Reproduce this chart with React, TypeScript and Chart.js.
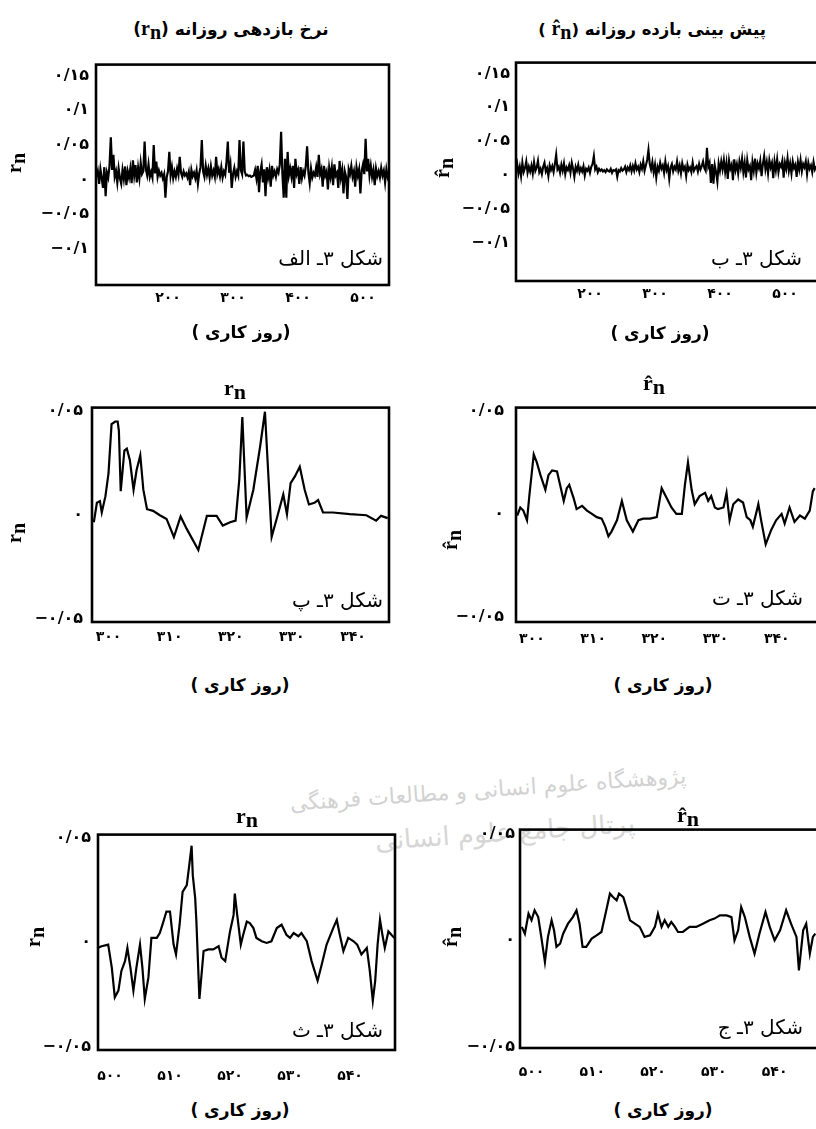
import React, { useEffect, useRef } from "react";
import { Chart, registerables } from "chart.js";

Chart.register(...registerables);

// ---------- DATA ----------
// Panel A: actual daily return r_n, read every second working day from day 90
const DAY0_A = 90;
const STEP_A = 2;
const returnsA = [
  0.004, 0.012, -0.006, 0.015, 0.002, -0.012, 0.018, -0.024, 0.010, 0.003,
  0.020, 0.061, 0.014, 0.036, 0.004, 0.012, -0.004, 0.016, 0.002, -0.006,
  0.014, 0.001, 0.019, -0.008, 0.012, 0.003, 0.016, -0.005, 0.028, 0.006,
  0.021, -0.004, 0.017, 0.002, 0.024, 0.008, 0.012, 0.055, 0.015, 0.006,
  0.022, 0.004, 0.011, 0.003, 0.050, 0.009, 0.026, 0.004, 0.013, 0.006,
  0.010, 0.002, 0.008, -0.026, 0.004, 0.012, 0.040, 0.006, 0.018, 0.002,
  0.012, 0.004, 0.016, 0.007, 0.033, 0.010, 0.004, 0.012, 0.006, 0.009,
  0.003, 0.011, -0.008, 0.014, 0.005, 0.010, 0.002, 0.013, -0.006, 0.009,
  0.018, 0.057, 0.012, 0.004, 0.020, 0.007, 0.016, 0.003, 0.019, 0.006,
  0.013, 0.004, 0.033, 0.008, 0.015, 0.005, 0.018, 0.003, 0.012, 0.007,
  0.026, 0.055, 0.010, 0.022, -0.012, 0.008, 0.017, 0.004, 0.012, 0.006,
  0.057, 0.014, 0.008, 0.055, 0.012, 0.006, 0.007, 0.005, 0.006, 0.004,
  0.005, 0.006, 0.014, 0.002, 0.020, -0.018, 0.012, 0.022, -0.004, 0.015,
  -0.024, 0.018, 0.003, 0.014, -0.010, 0.020, 0.006, 0.012, 0.004, 0.015,
  0.010, 0.022, 0.069, 0.008, -0.026, 0.030, -0.026, 0.040, 0.006, 0.016,
  0.004, 0.020, -0.012, 0.030, 0.008, 0.014, -0.006, 0.018, 0.002, 0.012,
  0.006, 0.020, 0.048, 0.010, -0.005, 0.016, 0.003, 0.010, 0.006, 0.018,
  0.004, 0.036, 0.008, 0.015, -0.010, 0.020, 0.006, 0.012, -0.014, 0.017,
  0.004, 0.018, -0.008, 0.022, 0.006, 0.010, -0.012, 0.027, 0.003, 0.014,
  -0.020, 0.012, 0.004, -0.028, 0.015, 0.008, 0.020, 0.004, 0.012, -0.010,
  0.018, 0.006, 0.015, -0.020, 0.013, 0.022, 0.008, 0.059, 0.012, 0.030,
  0.006, 0.020, 0.004, 0.014, -0.008, 0.016, 0.005, 0.012, 0.003, 0.017,
  0.006, 0.013, -0.004, 0.015, 0.004, 0.011,
];
const daysA = returnsA.map((_, i) => DAY0_A + STEP_A * i);

// Panel B: forecast daily return r^_n, every second working day from day 86
const DAY0_B = 86;
const STEP_B = 2;
const forecastB = [
  0.006, 0.016, 0.002, 0.012, -0.002, 0.018, 0.004, 0.010, 0.020, 0.003,
  0.012, 0.005, 0.014, 0.002, 0.019, 0.006, 0.011, 0.021, 0.004, 0.009,
  0.001, 0.012, 0.018, 0.005, 0.010, -0.002, 0.014, 0.007, 0.013, 0.004,
  0.016, 0.030, 0.008, 0.012, 0.003, 0.015, 0.006, 0.017, 0.001, 0.011,
  0.007, 0.014, 0.003, 0.018, 0.009, -0.003, 0.012, 0.006, 0.015, 0.004,
  0.010, 0.005, 0.013, -0.001, 0.009, 0.006, 0.011, 0.003, 0.012, 0.016,
  0.028, 0.008, 0.012, 0.004, 0.009, 0.006, 0.008, 0.005, 0.007, 0.004,
  0.008, 0.006, 0.005, 0.009, 0.003, 0.007, 0.006, 0.008, -0.003, 0.007,
  0.005, 0.010, 0.006, 0.008, 0.012, 0.004, 0.011, 0.007, 0.014, 0.005,
  0.013, 0.006, 0.017, 0.008, 0.012, 0.004, 0.015, 0.009, 0.020, 0.006,
  0.014, 0.022, 0.037, 0.016, 0.008, 0.019, 0.004, 0.015, -0.004, 0.012,
  0.006, 0.018, 0.009, 0.014, 0.003, 0.020, 0.007, 0.013, -0.006, 0.011,
  0.016, 0.005, 0.012, 0.008, 0.020, 0.006, 0.014, 0.002, 0.017, 0.008,
  0.012, -0.002, 0.015, 0.007, 0.011, 0.004, 0.018, 0.006, 0.010, 0.013,
  0.005, 0.016, 0.008, 0.013, 0.020, 0.010, 0.006, 0.040, 0.012, 0.018,
  -0.012, 0.016, -0.013, 0.014, 0.004, -0.010, 0.017, 0.006, 0.020, 0.008,
  0.022, 0.004, 0.018, -0.006, 0.021, 0.009, 0.015, -0.008, 0.023, 0.007,
  0.016, 0.002, 0.020, 0.010, 0.024, 0.004, 0.018, -0.004, 0.022, 0.008,
  0.013, -0.008, 0.019, 0.006, 0.024, 0.003, 0.017, 0.010, 0.021, -0.002,
  0.016, 0.028, 0.008, 0.019, 0.002, 0.022, 0.011, 0.018, -0.005, 0.020,
  0.007, 0.023, 0.004, 0.016, 0.012, 0.021, -0.004, 0.018, 0.009, 0.025,
  0.006, 0.017, 0.002, 0.020, 0.010, 0.015, -0.003, 0.019, 0.008, 0.022,
  0.005, 0.016, 0.011, 0.020, 0.001, 0.018, 0.009, 0.014, 0.004, 0.019,
  0.008, 0.013,
];
const daysB = forecastB.map((_, i) => DAY0_B + STEP_B * i);

// Panel C: r_n, days 298-346
const daysC = [
  297.6, 298.1, 298.6, 298.9, 299.5, 300.0, 300.5, 301.1, 301.5, 301.7,
  302.0, 302.6, 303.0, 303.5, 304.1, 304.6, 305.2, 305.7, 306.3, 307.3,
  308.4, 309.5, 310.7, 311.8, 312.8, 314.7, 316.1, 317.7, 318.7, 319.9,
  320.8, 321.4, 321.9, 322.6, 323.7, 324.8, 325.6, 326.7, 327.8, 328.6,
  329.2, 329.8, 330.5, 331.3, 332.1, 332.8, 333.7, 334.3, 335.1, 336.7,
  339.5, 342.2, 343.8, 344.6, 345.7,
];
const returnsC = [
  -0.0036, 0.0058, 0.0066, 0.0011, 0.009, 0.02, 0.0437, 0.045, 0.045, 0.0405,
  0.0114, 0.031, 0.0319, 0.0263, 0.0121, 0.0216, 0.0287, 0.0121, 0.0027, 0.0019,
  -0.0002, -0.002, -0.0107, -0.0008, -0.0068, -0.017, -0.0005, -0.0005, -0.0052, -0.0036,
  -0.0028, 0.0169, 0.0472, -0.0013, 0.0121, 0.0327, 0.0497, -0.0107, 0.0011, 0.0098,
  0.0003, 0.0153, 0.0185, 0.0232, 0.0121, 0.005, 0.0058, 0.0071, 0.0011, 0.0011,
  0.0003, -0.0002, -0.0028, -0.0005, -0.0016,
];

// Panel D: r^_n, days 298-346
const daysD = [
  297.6, 298.1, 298.6, 299.2, 299.6, 300.3, 300.8, 301.4, 302.2, 302.7,
  303.3, 304.1, 304.6, 305.2, 305.7, 306.1, 306.8, 307.3, 308.2, 309.0,
  309.8, 310.6, 311.4, 312.0, 312.5, 313.0, 313.9, 314.7, 315.5, 316.5,
  317.4, 318.2, 319.3, 320.4, 321.2, 322.0, 322.8, 323.6, 324.5, 325.0,
  325.5, 326.1, 326.6, 327.4, 328.3, 328.8, 329.3, 329.9, 330.4, 331.3,
  331.8, 332.3, 332.9, 333.7, 334.5, 335.1, 335.7, 336.1, 337.0, 337.5,
  338.2, 339.1, 339.9, 340.8, 341.3, 342.1, 342.9, 343.8, 344.6, 345.4,
  345.9, 346.2,
];
const forecastD = [
  -0.0008, 0.0031, 0.0016, -0.0031, 0.0094, 0.0289, 0.025, 0.0188, 0.0117, 0.0188,
  0.0211, 0.0206, 0.0141, 0.0063, 0.0125, 0.0141, 0.0078, 0.0023, 0.0039, 0.0016,
  0, -0.0016, -0.0023, -0.0063, -0.0109, -0.0086, -0.0031, 0.0063, -0.0031, -0.0086,
  -0.0031, -0.0023, -0.0023, -0.0016, 0.0125, 0.0078, 0.0031, 0, 0, 0.0141,
  0.025, 0.0117, 0.0047, 0.0086, 0.0102, 0.0063, 0.0086, 0.0031, 0.0023, 0.0031,
  0.0102, -0.0031, 0.0047, 0.007, 0.0055, -0.0016, -0.0031, -0.0063, 0.0047, -0.0039,
  -0.0148, -0.0078, -0.0031, 0, -0.0047, 0.0031, -0.0039, -0.0008, -0.0023, 0.0016,
  0.0109, 0.0125,
];

// Panel E: r_n, days 498-547
const daysE = [
  497.9, 498.6, 499.7, 500.3, 500.8, 501.4, 501.9, 502.5, 502.9, 503.4,
  503.9, 504.4, 505.0, 505.4, 505.8, 506.4, 506.9, 507.8, 508.3, 508.9,
  509.4, 510.0, 510.6, 511.0, 511.6, 512.1, 512.8, 513.2, 513.6, 513.8,
  514.2, 514.4, 514.9, 515.6, 516.4, 517.2, 518.1, 518.6, 519.2, 520.0,
  520.6, 520.8, 521.2, 521.8, 522.2, 522.8, 523.3, 523.9, 524.4, 525.3,
  526.1, 526.9, 527.8, 528.6, 529.4, 530.0, 530.6, 531.4, 531.9, 532.8,
  533.6, 534.6, 535.3, 536.1, 537.2, 537.8, 538.3, 538.9, 539.7, 540.6,
  541.2, 541.9, 542.8, 543.3, 543.8, 544.2, 544.6, 545.0, 545.4, 545.8,
  546.4, 546.9, 547.4,
];
const returnsE = [
  -0.0028, -0.002, -0.0012, -0.0122, -0.0264, -0.0232, -0.0138, -0.0091, -0.0028, -0.0122,
  -0.0232, -0.0122, -0.0012, -0.0122, -0.0272, -0.0169, 0.002, 0.002, 0.0043, 0.0098,
  0.0146, 0.0146, -0.0012, -0.0059, 0.0083, 0.024, 0.0272, 0.0366, 0.0461, 0.0319,
  0.0209, 0.0098, -0.0272, -0.0043, -0.0035, -0.0035, -0.002, -0.0075, -0.0091, 0.0051,
  0.013, 0.0232, 0.013, -0.0012, 0.0035, 0.0098, 0.0091, 0.0067, 0.002, 0.0004,
  -0.0004, 0.0004, 0.0067, 0.0083, 0.0035, 0.002, 0.0043, 0.0028, 0.0043, 0.0004,
  -0.0091, -0.0185, -0.0106, -0.0012, 0.0067, 0.0106, 0.0035, -0.0043, 0.002, 0.0004,
  -0.0012, -0.0059, -0.0028, -0.0138, -0.028, -0.0185, -0.0012, 0.0106, 0.0035, -0.0028,
  0.0051, 0.0035, 0.002,
];

// Panel F: r^_n, days 498-547
const daysF = [
  498.4, 498.9, 499.5, 500.0, 500.5, 501.1, 501.6, 502.2, 502.7, 503.3,
  503.7, 504.1, 504.7, 505.2, 506.0, 506.8, 507.4, 507.9, 508.4, 509.0,
  509.9, 510.7, 511.5, 512.3, 512.9, 513.4, 514.0, 514.4, 515.1, 515.6,
  516.2, 517.0, 517.8, 518.6, 519.5, 520.3, 520.8, 521.4, 521.9, 522.5,
  523.0, 523.6, 524.1, 524.9, 526.0, 527.1, 528.2, 529.3, 530.1, 531.0,
  532.1, 532.9, 533.4, 534.0, 534.5, 535.1, 535.9, 536.7, 537.5, 538.5,
  539.2, 540.0, 540.9, 541.9, 542.7, 543.6, 544.0, 544.7, 545.2, 545.8,
  546.3, 546.7,
];
const forecastF = [
  0.0063, 0.0031, 0.0125, 0.0094, 0.0141, 0.0109, 0.0016, -0.0102, 0.0016, 0.0094,
  0.0047, -0.0031, -0.0016, 0.0031, 0.0078, 0.0109, 0.0141, 0.0078, -0.0031, -0.0031,
  0.0008, 0.0023, 0.0039, 0.0141, 0.0219, 0.0203, 0.0188, 0.0219, 0.0203, 0.0156,
  0.0094, 0.0078, 0.0063, 0.0016, 0.0023, 0.0063, 0.0125, 0.0063, 0.0094, 0.0063,
  0.0086, 0.0063, 0.0039, 0.0039, 0.0063, 0.0063, 0.0078, 0.0094, 0.0102, 0.0117,
  0.0117, 0.0109, 0, 0.0047, 0.0156, 0.0109, 0.0016, -0.0063, 0.0031, 0.0133,
  0.0063, 0, 0.0047, 0.0141, 0.0078, 0.0016, -0.0141, 0.0047, 0.0078, -0.0063,
  0.0016, 0.0031,
];

// Tick values and their Persian labels
const yTicksWide = [-0.1, -0.05, 0, 0.05, 0.1, 0.15];
const yTickLabelsWide = ["−۰/۱", "−۰/۰۵", "۰", "۰/۰۵", "۰/۱", "۰/۱۵"];
const yTicksNarrow = [-0.05, 0, 0.05];
const yTickLabelsNarrow = ["−۰/۰۵", "۰", "۰/۰۵"];
const xTicksWide = [200, 300, 400, 500];
const xTickLabelsWide = ["۲۰۰", "۳۰۰", "۴۰۰", "۵۰۰"];
const xTicksMid = [300, 310, 320, 330, 340];
const xTickLabelsMid = ["۳۰۰", "۳۱۰", "۳۲۰", "۳۳۰", "۳۴۰"];
const xTicksLate = [500, 510, 520, 530, 540];
const xTickLabelsLate = ["۵۰۰", "۵۱۰", "۵۲۰", "۵۳۰", "۵۴۰"];

// Texts
const TITLE_ACTUAL = "نرخ بازدهی روزانه";
const TITLE_FORECAST = "پیش بینی بازده روزانه";
const X_TITLE = "(روز کاری )";
const FIG_LABELS = ["شکل ۳ـ الف", "شکل ۳ـ ب", "شکل ۳ـ پ", "شکل ۳ـ ت", "شکل ۳ـ ث", "شکل ۳ـ ج"];
const WATERMARK_1 = "پژوهشگاه علوم انسانی و مطالعات فرهنگی";
const WATERMARK_2 = "پرتال جامع علوم انسانی";

// ---------- LAYOUT ----------
const FA = "'DejaVu Sans', sans-serif";
const SERIF = "'Liberation Serif', 'DejaVu Serif', serif";
const YW = 90;
const XH = 40;
const PT = 14;
const PR = 14;

const PANELS = [
  {
    xs: daysA, ys: returnsA, box: { l: 96, t: 62, r: 389, b: 285 },
    xMin: 89.2, xMax: 540, yMin: -0.152, yMax: 0.166,
    yTicks: yTicksWide, yLabels: yTickLabelsWide, xTicks: xTicksWide, xLabels: xTickLabelsWide,
    lw: 2.2, yPad: 7, xPad: 5,
  },
  {
    xs: daysB, ys: forecastB, box: { l: 516, t: 61, r: 822, b: 281 },
    xMin: 86.2, xMax: 557, yMin: -0.157, yMax: 0.166,
    yTicks: yTicksWide, yLabels: yTickLabelsWide, xTicks: xTicksWide, xLabels: xTickLabelsWide,
    lw: 2.1, yPad: 6, xPad: 5,
  },
  {
    xs: daysC, ys: returnsC, box: { l: 92, t: 403, r: 389, b: 622 },
    xMin: 297.3, xMax: 345.9, yMin: -0.0517, yMax: 0.0517,
    yTicks: yTicksNarrow, yLabels: yTickLabelsNarrow, xTicks: xTicksMid, xLabels: xTickLabelsMid,
    lw: 2.2, yPad: 9, xPad: 7,
  },
  {
    xs: daysD, ys: forecastD, box: { l: 516, t: 400, r: 822, b: 622 },
    xMin: 297.4, xMax: 347.4, yMin: -0.0525, yMax: 0.0516,
    yTicks: yTicksNarrow, yLabels: yTickLabelsNarrow, xTicks: xTicksMid, xLabels: xTickLabelsMid,
    lw: 2.2, yPad: 12, xPad: 9,
  },
  {
    xs: daysE, ys: returnsE, box: { l: 98, t: 832, r: 395, b: 1050 },
    xMin: 498, xMax: 547.5, yMin: -0.0516, yMax: 0.0514,
    yTicks: yTicksNarrow, yLabels: yTickLabelsNarrow, xTicks: xTicksLate, xLabels: xTickLabelsLate,
    lw: 2.2, yPad: 7, xPad: 18,
  },
  {
    xs: daysF, ys: forecastF, box: { l: 520, t: 829, r: 822, b: 1048 },
    xMin: 498.1, xMax: 547.8, yMin: -0.0506, yMax: 0.052,
    yTicks: yTicksNarrow, yLabels: yTickLabelsNarrow, xTicks: xTicksLate, xLabels: xTickLabelsLate,
    lw: 2.2, yPad: 5, xPad: 16,
  },
];

const TITLES = [
  { cx: 231, cy: 28, kind: "actualLong" },
  { cx: 652, cy: 28, kind: "forecastLong" },
  { cx: 235, cy: 388, kind: "r" },
  { cx: 654, cy: 383, kind: "rhat" },
  { cx: 247, cy: 816, kind: "r" },
  { cx: 688, cy: 815, kind: "rhat" },
];
const Y_LABELS = [
  { cx: 14, cy: 163, hat: false },
  { cx: 442, cy: 168, hat: true },
  { cx: 14, cy: 533, hat: false },
  { cx: 450, cy: 540, hat: true },
  { cx: 33, cy: 937, hat: false },
  { cx: 450, cy: 937, hat: true },
];
const X_TITLES = [
  { cx: 241, cy: 332 }, { cx: 660, cy: 333 },
  { cx: 240, cy: 685 }, { cx: 663, cy: 685 },
  { cx: 240, cy: 1110 }, { cx: 663, cy: 1110 },
];
const FIG_POS = [
  { r: 383, cy: 258 }, { r: 802, cy: 258 },
  { r: 383, cy: 600 }, { r: 803, cy: 598 },
  { r: 383, cy: 1030 }, { r: 803, cy: 1027 },
];

const boxPlugin = {
  id: "frameBox",
  afterDraw(chart: any) {
    const { ctx, chartArea } = chart;
    ctx.save();
    ctx.strokeStyle = "#000";
    ctx.lineWidth = 2.6;
    ctx.strokeRect(chartArea.left, chartArea.top, chartArea.right - chartArea.left, chartArea.bottom - chartArea.top);
    ctx.restore();
  },
};

function Panel({ p }: { p: any }) {
  const ref = useRef<HTMLCanvasElement>(null);
  const w = YW + (p.box.r - p.box.l) + PR;
  const h = PT + (p.box.b - p.box.t) + XH;
  useEffect(() => {
    if (!ref.current) return;
    const chart = new Chart(ref.current, {
      type: "line",
      data: {
        datasets: [
          {
            data: p.xs.map((x: number, i: number) => ({ x, y: p.ys[i] })),
            borderColor: "#000",
            borderWidth: p.lw,
            pointRadius: 0,
            tension: 0,
            fill: false,
          },
        ],
      },
      options: {
        animation: false,
        responsive: false,
        devicePixelRatio: 1,
        layout: { padding: { left: 0, top: PT, right: PR, bottom: 0 } },
        plugins: { legend: { display: false }, tooltip: { enabled: false } },
        scales: {
          x: {
            type: "linear",
            min: p.xMin,
            max: p.xMax,
            grid: { display: false, drawTicks: false },
            border: { display: false },
            afterFit: (s: any) => { s.height = XH; },
            afterBuildTicks: (s: any) => { s.ticks = p.xTicks.map((v: number) => ({ value: v })); },
            ticks: {
              autoSkip: false,
              maxRotation: 0,
              padding: p.xPad,
              color: "#000",
              font: { family: FA, size: 14, weight: "bold" },
              callback: (_v: any, i: number) => p.xLabels[i],
            },
          },
          y: {
            type: "linear",
            min: p.yMin,
            max: p.yMax,
            grid: { display: false, drawTicks: false },
            border: { display: false },
            afterFit: (s: any) => { s.width = YW; },
            afterBuildTicks: (s: any) => { s.ticks = p.yTicks.map((v: number) => ({ value: v })); },
            ticks: {
              autoSkip: false,
              padding: p.yPad,
              color: "#000",
              font: { family: FA, size: 16, weight: "bold" },
              callback: (_v: any, i: number) => p.yLabels[i],
            },
          },
        },
      },
      plugins: [boxPlugin],
    } as any);
    return () => chart.destroy();
  }, []);
  return (
    <canvas
      ref={ref}
      width={w}
      height={h}
      style={{ position: "absolute", left: p.box.l - YW, top: p.box.t - PT, width: w, height: h }}
    />
  );
}

function RN({ hat, size }: { hat: boolean; size: number }) {
  return (
    <span dir="ltr" style={{ fontFamily: SERIF, fontWeight: "bold", fontSize: size, unicodeBidi: "isolate" }}>
      {hat ? "r\u0302" : "r"}
      <span style={{ position: "relative", top: "0.18em" }}>n</span>
    </span>
  );
}

const centered = (cx: number, cy: number): React.CSSProperties => ({
  position: "absolute",
  left: cx,
  top: cy,
  transform: "translate(-50%, -50%)",
  whiteSpace: "nowrap",
  lineHeight: 1,
  color: "#000",
});

export default function App() {
  return (
    <div
      style={{
        position: "absolute",
        left: 0,
        top: 0,
        width: 816,
        height: 1129,
        overflow: "hidden",
        background: "#fff",
      }}
    >
      <div
        dir="rtl"
        style={{
          ...centered(488, 790),
          transform: "translate(-50%, -50%) rotate(-4deg)",
          fontFamily: FA,
          fontSize: 22,
          color: "#d2d2d2",
        }}
      >
        {WATERMARK_1}
      </div>
      <div
        dir="rtl"
        style={{
          ...centered(505, 832),
          transform: "translate(-50%, -50%) rotate(-4deg)",
          fontFamily: FA,
          fontSize: 26,
          color: "#d6d6d6",
        }}
      >
        {WATERMARK_2}
      </div>
      {PANELS.map((p, i) => (
        <Panel key={i} p={p} />
      ))}
      {TITLES.map((t, i) => (
        <div key={"t" + i} style={centered(t.cx, t.cy)}>
          {t.kind === "actualLong" && (
            <span dir="rtl" style={{ fontFamily: FA, fontWeight: "bold", fontSize: 17 }}>
              {TITLE_ACTUAL} (<RN hat={false} size={20} />)
            </span>
          )}
          {t.kind === "forecastLong" && (
            <span dir="rtl" style={{ fontFamily: FA, fontWeight: "bold", fontSize: 16.5 }}>
              {TITLE_FORECAST} (<RN hat={true} size={20} /> )
            </span>
          )}
          {t.kind === "r" && <RN hat={false} size={22} />}
          {t.kind === "rhat" && <RN hat={true} size={22} />}
        </div>
      ))}
      {Y_LABELS.map((l, i) => (
        <div key={"y" + i} style={{ ...centered(l.cx, l.cy), transform: "translate(-50%, -50%) rotate(-90deg)" }}>
          <RN hat={l.hat} size={20} />
        </div>
      ))}
      {X_TITLES.map((x, i) => (
        <div key={"x" + i} dir="rtl" style={{ ...centered(x.cx, x.cy), fontFamily: FA, fontWeight: "bold", fontSize: 17 }}>
          {X_TITLE}
        </div>
      ))}
      {FIG_POS.map((f, i) => (
        <div
          key={"f" + i}
          dir="rtl"
          style={{
            position: "absolute",
            right: 816 - f.r,
            top: f.cy,
            transform: "translateY(-50%)",
            whiteSpace: "nowrap",
            lineHeight: 1,
            fontFamily: FA,
            fontSize: 20,
            color: "#000",
          }}
        >
          {FIG_LABELS[i]}
        </div>
      ))}
    </div>
  );
}
